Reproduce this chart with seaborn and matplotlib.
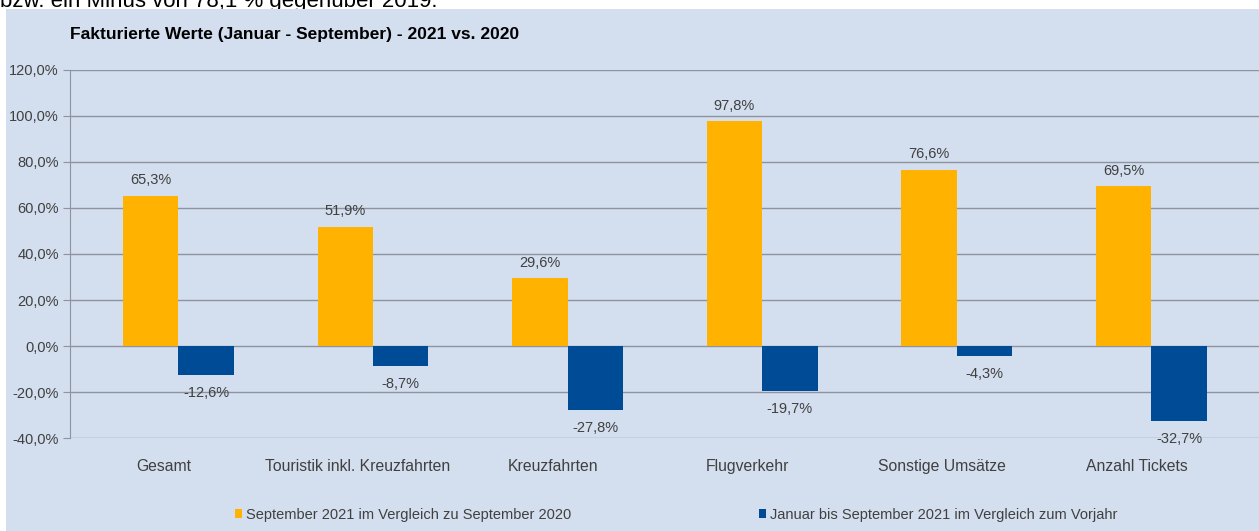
""" Fakturierte Werte (Januar - September) - 2021 vs. 2020, grouped bar chart.

"""

import pandas as pd
import seaborn as sns
import matplotlib.pyplot as plt
from matplotlib.patches import Patch, Rectangle
from matplotlib.ticker import FuncFormatter
from matplotlib.transforms import ScaledTranslation

categories = ["Gesamt", "Touristik inkl. Kreuzfahrten", "Kreuzfahrten",
              "Flugverkehr", "Sonstige Umsätze", "Anzahl Tickets"]
series_names = ["September 2021 im Vergleich zu September 2020",
                "Januar bis September 2021 im Vergleich zum Vorjahr"]
sep_vs_sep = [65.3, 51.9, 29.6, 97.8, 76.6, 69.5]
jan_sep_vs_prev = [-12.6, -8.7, -27.8, -19.7, -4.3, -32.7]
y_ticks = [-40, -20, 0, 20, 40, 60, 80, 100, 120]

title = "Fakturierte Werte (Januar - September) - 2021 vs. 2020"
top_text = "bzw. ein Minus von 78,1 % gegenüber 2019."


def pct(v, decimals=1):
    return f"{v:.{decimals}f}%".replace(".", ",")


def save(path):
    plt.savefig(path, dpi=100)
    plt.close()


def plot_bars():
    df = pd.DataFrame({
        "category": categories * 2,
        "series": [series_names[0]] * len(categories) + [series_names[1]] * len(categories),
        "value": sep_vs_sep + jan_sep_vs_prev,
    })

    sns.set_style("white")
    plt.rcParams["font.family"] = ["Liberation Sans", "DejaVu Sans"]

    colors = ["#FFB300", "#004B96"]
    bg = "#D3DEEE"
    grid_c = "#8E93A0"
    text_c = "#404040"

    fig = plt.figure(figsize=(12.59, 5.31), dpi=100)
    fig.patch.set_facecolor("white")
    # light blue chart panel below the white strip
    fig.patches.append(Rectangle((6 / 1259, 0), 1, 1 - 9 / 531,
                                 transform=fig.transFigure, facecolor=bg,
                                 edgecolor="none", zorder=-5))
    # clipped text of the page above the chart
    fig.text(0.0, 1 - 7 / 531, top_text, fontsize=16, color="black",
             va="baseline", ha="left", zorder=-10)

    ax = fig.add_axes([70 / 1259, 1 - 438 / 531, 1189 / 1259, 368 / 531])
    ax.set_facecolor(bg)

    sns.barplot(data=df, x="category", y="value", hue="series",
                palette=colors, saturation=1, width=0.57, gap=0,
                linewidth=0, edgecolor="none",
                legend=False, ax=ax, zorder=3)

    ax.set_ylim(-40, 120)
    ax.set_xlim(-0.557, 5.553)
    ax.set_yticks(y_ticks)
    ax.yaxis.set_major_formatter(FuncFormatter(lambda v, p: pct(v)))
    ax.grid(axis="y", color=grid_c, linewidth=1.0, zorder=1)
    ax.set_axisbelow(True)
    for side in ["top", "right", "bottom"]:
        ax.spines[side].set_visible(False)
    ax.spines["left"].set_color(grid_c)
    ax.tick_params(axis="y", length=5, color=grid_c, pad=3,
                   labelsize=10.5, labelcolor=text_c, left=True)
    ax.tick_params(axis="x", length=0, pad=15, labelsize=11.3, labelcolor=text_c)
    # category labels sit a little left of the bar groups in the original
    shift = ScaledTranslation(-15 / 100, 0, fig.dpi_scale_trans)
    for lbl in ax.get_xticklabels():
        lbl.set_transform(lbl.get_transform() + shift)
    ax.set_xlabel("")
    ax.set_ylabel("")

    # value labels
    for container in ax.containers:
        for bar in container:
            h = bar.get_height()
            x = bar.get_x() + bar.get_width() / 2
            if h >= 0:
                ax.annotate(pct(h), (x, h), xytext=(0, 6), textcoords="offset points",
                            ha="center", va="bottom", fontsize=10.5, color=text_c)
            else:
                ax.annotate(pct(h), (x, h), xytext=(0, -8), textcoords="offset points",
                            ha="center", va="top", fontsize=10.5, color=text_c)

    fig.text(70 / 1259, 1 - 35 / 531, title, fontsize=12.5, fontweight="bold",
             color="black", va="center", ha="left")

    handles = [Patch(facecolor=c, edgecolor="none") for c in colors]
    leg = fig.legend(handles, series_names, loc="center left",
                     bbox_to_anchor=(222 / 1259, 1 - 515 / 531), ncol=2,
                     frameon=False, fontsize=10.5, handlelength=0.45, handleheight=0.6,
                     handletextpad=0.3, columnspacing=12.9)
    for t in leg.get_texts():
        t.set_color(text_c)

    save("out.png")


if __name__ == "__main__":
    plot_bars()
